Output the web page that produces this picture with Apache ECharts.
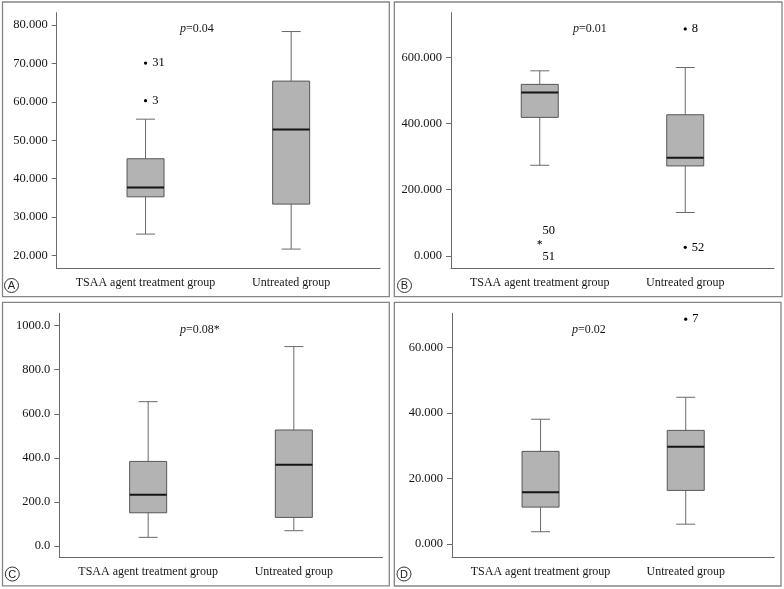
<!DOCTYPE html>
<html>
<head>
<meta charset="utf-8">
<script src="https://cdn.jsdelivr.net/npm/echarts@6/dist/echarts.min.js"></script>
<style>
html,body{margin:0;padding:0;background:#fff;}
#chart{width:784px;height:589px;}
</style>
</head>
<body>
<div id="chart"></div>
<script>
// ---------- data ----------
const categories = ['TSAA agent treatment group', 'Untreated group'];
// each box: [min, Q1, median, Q3, max]
const boxA = [[25.6, 35.3, 37.7, 45.2, 55.5], [21.7, 33.4, 52.8, 65.4, 78.3]];
const boxB = [[274, 419, 494, 519, 560], [131, 272, 297, 427, 570]];
const boxC = [[39.5, 151, 233, 384, 655], [69.6, 130, 369, 526.5, 905]];
const boxD = [[3.8, 11.3, 15.8, 28.3, 38.1], [6.1, 16.4, 29.7, 34.7, 44.8]];
// outliers: [group index, value, case label]
const outliersA = [[0, 70.1, '31'], [0, 60.3, '3']];
const outliersB = [[1, 687, '8'], [1, 25.5, '52']];
const extremesB = [[0, 40.6, '50'], [0, 40.6, '51']];
const outliersC = [];
const outliersD = [[1, 68.6, '7']];
const ticksA = [20, 30, 40, 50, 60, 70, 80];
const ticksB = [0, 200, 400, 600];
const ticksC = [0, 200, 400, 600, 800, 1000];
const ticksD = [0, 20, 40, 60];
const pValues = ['0.04', '0.01', '0.08*', '0.02'];
const panelLetters = ['A', 'B', 'C', 'D'];

// ---------- layout / style ----------
const SERIF = '"Liberation Serif", "DejaVu Serif", serif';
const SANS = '"Liberation Sans", Arial, sans-serif';
const axisColor = '#6a6a6a';
const textColor = '#161616';

const panels = [
  {box: boxA, out: outliersA, ext: [], ticks: ticksA, min: 16.7, max: 83.2, dec: 3,
   grid: {left: 56.7, top: 12.7, width: 323.3, height: 255.6}},
  {box: boxB, out: outliersB, ext: extremesB, ticks: ticksB, min: -38, max: 736, dec: 3,
   grid: {left: 451, top: 12.7, width: 323, height: 255.6}},
  {box: boxC, out: outliersC, ext: [], ticks: ticksC, min: -51, max: 1056, dec: 1,
   grid: {left: 59.3, top: 313.3, width: 323.4, height: 244}},
  {box: boxD, out: outliersD, ext: [], ticks: ticksD, min: -4, max: 70.4, dec: 3,
   grid: {left: 452, top: 313.3, width: 322.3, height: 244}}
];

const frames = [
  {x: 2.5, y: 2, w: 386.8, h: 294.7},
  {x: 394.3, y: 2, w: 387.7, h: 294.7},
  {x: 2.5, y: 302.3, w: 386.8, h: 283.5},
  {x: 394.3, y: 302.3, w: 386.7, h: 283.7}
];
const pPos = [[180, 28.5], [573, 28.5], [180, 329.5], [572, 329.5]];
const letterPos = [[11.5, 285.5], [404.5, 285.5], [12.3, 574], [404, 574]];

function renderBox(params, api) {
  const x = api.value(0);
  const pMin = api.coord([x, api.value(1)]);
  const pQ1 = api.coord([x, api.value(2)]);
  const pMed = api.coord([x, api.value(3)]);
  const pQ3 = api.coord([x, api.value(4)]);
  const pMax = api.coord([x, api.value(5)]);
  const cx = pMin[0];
  const hw = 18.5, cw = 9.5;
  const wStyle = {stroke: '#6a6a6a', lineWidth: 1};
  return {
    type: 'group',
    children: [
      {type: 'line', shape: {x1: cx, y1: pQ3[1], x2: cx, y2: pMax[1]}, style: wStyle},
      {type: 'line', shape: {x1: cx, y1: pQ1[1], x2: cx, y2: pMin[1]}, style: wStyle},
      {type: 'line', shape: {x1: cx - cw, y1: pMax[1], x2: cx + cw, y2: pMax[1]}, style: wStyle},
      {type: 'line', shape: {x1: cx - cw, y1: pMin[1], x2: cx + cw, y2: pMin[1]}, style: wStyle},
      {type: 'rect', shape: {x: cx - hw, y: pQ3[1], width: hw * 2, height: pQ1[1] - pQ3[1]},
       style: {fill: '#b3b3b3', stroke: '#575757', lineWidth: 1}},
      {type: 'line', shape: {x1: cx - hw, y1: pMed[1], x2: cx + hw, y2: pMed[1]},
       style: {stroke: '#151515', lineWidth: 2}}
    ]
  };
}

const grid = [], xAxis = [], yAxis = [], series = [], graphic = [];

panels.forEach(function (p, i) {
  grid.push(p.grid);
  xAxis.push({
    type: 'value', gridIndex: i, min: 0.39, max: 2.61,
    axisLine: {show: true, onZero: false, lineStyle: {color: axisColor, width: 1}},
    axisTick: {show: false},
    splitLine: {show: false},
    axisLabel: {
      customValues: [1, 2], margin: 9,
      formatter: function (v) { return categories[Math.round(v) - 1] || ''; },
      color: textColor, fontFamily: SERIF, fontSize: 12
    }
  });
  yAxis.push({
    type: 'value', gridIndex: i, min: p.min, max: p.max,
    axisLine: {show: true, onZero: false, lineStyle: {color: axisColor, width: 1}},
    axisTick: {show: true, customValues: p.ticks, length: 5, lineStyle: {color: axisColor}},
    splitLine: {show: false},
    axisLabel: {
      customValues: p.ticks, margin: 9,
      formatter: function (v) { return Number(v).toFixed(p.dec); },
      color: textColor, fontFamily: SERIF, fontSize: 12.5
    }
  });
  series.push({
    type: 'custom', xAxisIndex: i, yAxisIndex: i,
    renderItem: renderBox,
    encode: {x: 0, y: [1, 2, 3, 4, 5]},
    data: p.box.map(function (b, k) { return [k + 1].concat(b); }),
    silent: true
  });
  if (p.out.length) {
    series.push({
      type: 'scatter', xAxisIndex: i, yAxisIndex: i,
      symbol: 'circle', symbolSize: 3.2,
      itemStyle: {color: '#000', opacity: 1},
      data: p.out.map(function (o) { return [o[0] + 1, o[1], o[2]]; }),
      label: {
        show: true, position: 'right', distance: 5,
        formatter: function (q) { return q.data[2]; },
        color: '#000', opacity: 1, fontFamily: SERIF, fontSize: 12.5
      },
      silent: true
    });
  }
  if (p.ext.length) {
    series.push({
      type: 'scatter', xAxisIndex: i, yAxisIndex: i,
      symbol: 'path://M4.5,0h1v3.6l3.1-1.8.5.9-3.1,1.8,3.1,1.8-.5.9-3.1-1.8v3.6h-1v-3.6l-3.1,1.8-.5-.9,3.1-1.8-3.1-1.8.5-.9,3.1,1.8z',
      symbolSize: 4.5,
      itemStyle: {color: '#222', opacity: 1},
      data: p.ext.map(function (o, k) {
        return {
          value: [o[0] + 1, o[1], o[2]],
          label: {offset: k === 0 ? [9, -12] : [9, 14.5]}
        };
      }),
      label: {
        show: true, position: 'inside',
        formatter: function (q) { return q.data.value[2]; },
        color: '#000', opacity: 1, fontFamily: SERIF, fontSize: 12.5
      },
      silent: true
    });
  }
  const f = frames[i];
  graphic.push({
    type: 'rect', shape: {x: f.x, y: f.y, width: f.w, height: f.h},
    style: {fill: 'none', stroke: '#858585', lineWidth: 1.3}, silent: true
  });
  graphic.push({
    type: 'text', x: pPos[i][0], y: pPos[i][1],
    style: {
      text: '{i|p}=' + pValues[i],
      font: '12px ' + SERIF, fill: textColor, verticalAlign: 'middle', align: 'left',
      rich: {i: {fontStyle: 'italic', fontFamily: SERIF, fontSize: 12, fill: textColor}}
    }, silent: true
  });
  graphic.push({
    type: 'circle', shape: {cx: letterPos[i][0], cy: letterPos[i][1], r: 7},
    style: {fill: '#fff', stroke: '#333', lineWidth: 1}, silent: true
  });
  graphic.push({
    type: 'text', x: letterPos[i][0], y: letterPos[i][1] + 0.5,
    style: {text: panelLetters[i], font: '11px ' + SANS, fill: '#222', align: 'center', verticalAlign: 'middle'},
    silent: true
  });
});

const chart = echarts.init(document.getElementById('chart'), null, {renderer: 'canvas'});
chart.setOption({
  animation: false,
  backgroundColor: '#fff',
  grid: grid, xAxis: xAxis, yAxis: yAxis, series: series, graphic: graphic
});
</script>
</body>
</html>
